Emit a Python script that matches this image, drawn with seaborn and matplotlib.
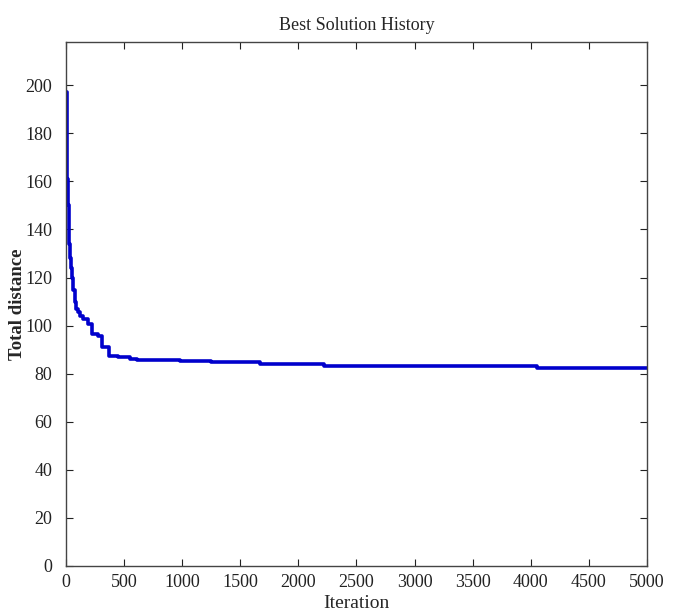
import matplotlib
matplotlib.use("Agg")
import matplotlib.pyplot as plt
import seaborn as sns
import pandas as pd

# Best solution history (step-wise)
iteracoes = [0, 6, 12, 18, 26, 35, 45, 52, 62, 77, 90, 103, 120, 146, 190,
             224, 275, 310, 370, 450, 550, 610, 980, 1250, 1670, 2220, 4050, 5000]
distancias = [197, 180, 161, 150, 134, 128, 124, 120, 115, 110, 107, 105.5, 104,
              102.7, 100.6, 96.5, 95.6, 91.3, 87.3, 86.9, 86.1, 85.7, 85.1, 84.8,
              84.0, 83.3, 82.5, 82.5]

df = pd.DataFrame({"Iteration": iteracoes, "Total distance": distancias})

sns.set_style("ticks")
plt.rcParams["font.family"] = ["Liberation Serif", "DejaVu Serif"]

fig = plt.figure(figsize=(6.76, 6.15), dpi=100)
ax = fig.add_axes([0.0976, 0.0797, 0.8594, 0.852])

sns.lineplot(
    data=df, x="Iteration", y="Total distance",
    drawstyle="steps-post", color="#0000cc", linewidth=2.6,
    estimator=None, ax=ax
)

ax.set_xlim(0, 5000)
ax.set_ylim(0, 218)
ax.set_xticks(range(0, 5001, 500))
ax.set_yticks(range(0, 201, 20))
ax.tick_params(direction="in", length=5, width=0.8, labelsize=13,
               top=True, right=True, colors="#222222")
ax.tick_params(axis="x", pad=6)
ax.tick_params(axis="y", pad=10)
for s in ax.spines.values():
    s.set_linewidth(1.0)
    s.set_color("#444444")

ax.set_title("Best Solution History", fontsize=13, pad=9)
ax.set_xlabel("Iteration", fontsize=14, labelpad=3)
ax.set_ylabel("Total distance", fontsize=13.5, fontweight="bold")
ax.yaxis.set_label_coords(-0.068, 0.5)

fig.savefig("out.png", dpi=100)
